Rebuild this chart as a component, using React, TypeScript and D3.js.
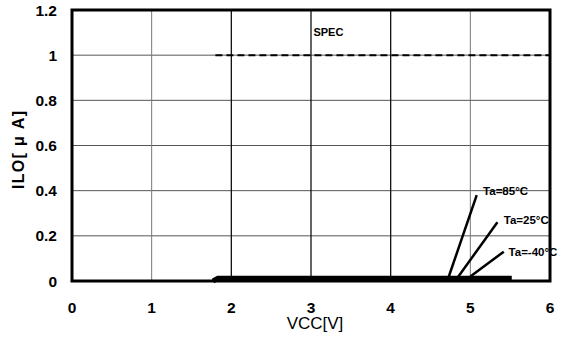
import React from "react";
import * as d3 from "d3";

const xTicks = [0, 1, 2, 3, 4, 5, 6];
const yTicks = [0, 0.2, 0.4, 0.6, 0.8, 1, 1.2];
const yTickLabels = ["0", "0.2", "0.4", "0.6", "0.8", "1", "1.2"];
const vcc = [1.77, 1.83, 2, 3, 4, 5, 5.52];
const ilo = [0, 0.012, 0.012, 0.012, 0.012, 0.012, 0.012];
const specVcc = [1.8, 6];
const specIlo = [1, 1];
const annotations = [
  { label: "Ta=85°C", x0: 4.73, y0: 0.02, x1: 5.08, y1: 0.38, lx: 5.16, ly: 0.4 },
  { label: "Ta=25°C", x0: 4.85, y0: 0.02, x1: 5.34, y1: 0.26, lx: 5.42, ly: 0.27 },
  { label: "Ta=-40°C", x0: 5.0, y0: 0.02, x1: 5.42, y1: 0.13, lx: 5.48, ly: 0.13 },
];

export default function App() {
  const W = 579, H = 340;
  const x = d3.scaleLinear().domain([0, 6]).range([72, 550]);
  const y = d3.scaleLinear().domain([0, 1.2]).range([281, 10]);
  const line = d3.line<[number, number]>().x(d => x(d[0])).y(d => y(d[1]));
  const dataPts: [number, number][] = vcc.map((v, i) => [v, ilo[i]]);
  const specPts: [number, number][] = specVcc.map((v, i) => [v, specIlo[i]]);
  const font = "'Liberation Sans', Arial, sans-serif";
  return (
    <div style={{ position: "absolute", left: 0, top: 0 }}>
      <svg width={W} height={H} style={{ display: "block", background: "#fff" }}>
        {yTicks.filter(t => t > 0 && t < 1.2).map(t => (
          <line key={"h" + t} x1={x(0)} x2={x(6)} y1={y(t)} y2={y(t)} stroke="#555" strokeWidth={1} />
        ))}
        {xTicks.filter(t => t > 0 && t < 6).map(t => (
          <line key={"v" + t} x1={x(t)} x2={x(t)} y1={y(0)} y2={y(1.2)}
            stroke={t >= 2 && t <= 4 ? "#111" : "#777"} strokeWidth={t >= 2 && t <= 4 ? 1.3 : 1} />
        ))}
        <path d={line(specPts) || ""} fill="none" stroke="#000" strokeWidth={2} strokeDasharray="7,4" />
        <rect x={x(0)} y={y(1.2)} width={x(6) - x(0)} height={y(0) - y(1.2)} fill="none" stroke="#000" strokeWidth={3} />
        <path d={line(dataPts) || ""} fill="none" stroke="#000" strokeWidth={5} />
        {annotations.map(a => (
          <g key={a.label}>
            <line x1={x(a.x0)} y1={y(a.y0)} x2={x(a.x1)} y2={y(a.y1)} stroke="#000" strokeWidth={2.5} />
            <text x={x(a.lx)} y={y(a.ly)} dy="0.35em" fontFamily={font} fontWeight="bold" fontSize={11.5}>{a.label}</text>
          </g>
        ))}
        <text x={x(3.03)} y={y(1.1)} dy="0.35em" fontFamily={font} fontWeight="bold" fontSize={11}>SPEC</text>
        {yTicks.map((t, i) => (
          <text key={"yl" + t} x={57} y={y(t)} dy="0.36em" textAnchor="end" fontFamily={font} fontWeight="bold" fontSize={15.5}>{yTickLabels[i]}</text>
        ))}
        {xTicks.map(t => (
          <text key={"xl" + t} x={x(t)} y={307} dy="0.36em" textAnchor="middle" fontFamily={font} fontWeight="bold" fontSize={15.5}>{t}</text>
        ))}
        <text x={315} y={323} dy="0.36em" textAnchor="middle" fontFamily={font} fontSize={17}>VCC[V]</text>
        <text transform={`translate(18,150) rotate(-90)`} dy="0.36em" textAnchor="middle" fontFamily={font} fontWeight="bold" fontSize={16} textLength={78} lengthAdjust="spacing">ILO[ μ A]</text>
      </svg>
    </div>
  );
}
